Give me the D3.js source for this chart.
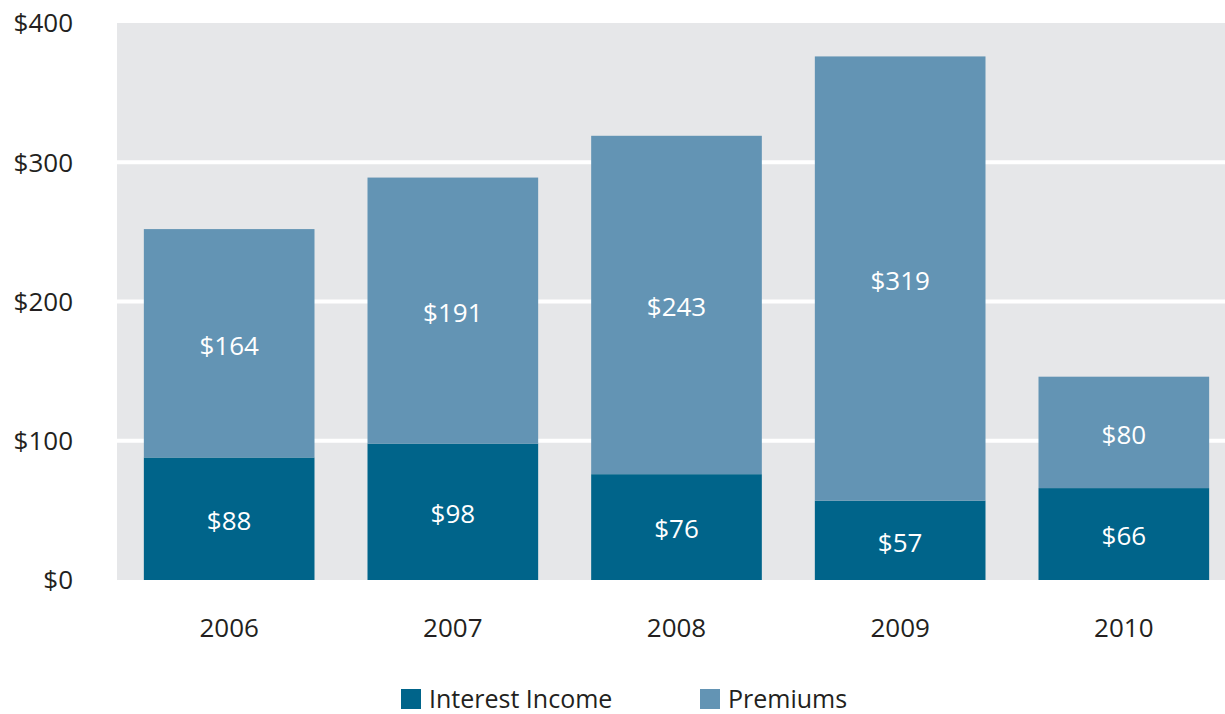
<!DOCTYPE html>
<html>
<head>
<meta charset="utf-8">
<script src="https://cdn.jsdelivr.net/npm/d3@7"></script>
<style>
  body { margin: 0; background: #fff; }
  text { font-family: "Open Sans", sans-serif; }
</style>
</head>
<body>
<div id="chart"></div>
<script>
const years = ["2006", "2007", "2008", "2009", "2010"];
const interestIncome = [88, 98, 76, 57, 66];
const premiums = [164, 191, 243, 319, 80];
const yTicks = [0, 100, 200, 300, 400];
const seriesNames = ["Interest Income", "Premiums"];
const seriesColors = ["#00648a", "#6394b4"];

const W = 1225, H = 714;
const margin = { top: 23, left: 117, bottom: 134 };
const plotBottom = H - margin.bottom;

const svg = d3.select("#chart").append("svg")
    .attr("width", W)
    .attr("height", H);

const x = d3.scaleBand()
    .domain(years)
    .range([margin.left, margin.left + 1119])
    .paddingInner(0.237)
    .paddingOuter(0.12);

const y = d3.scaleLinear()
    .domain([0, 400])
    .range([plotBottom, margin.top]);

// gray plot background
svg.append("rect")
    .attr("x", margin.left)
    .attr("y", margin.top)
    .attr("width", W - margin.left)
    .attr("height", plotBottom - margin.top)
    .attr("fill", "#e6e7e9");

// white gridlines
svg.selectAll(".grid")
    .data(yTicks.filter(d => d > 0 && d < 400))
    .enter().append("line")
    .attr("x1", margin.left)
    .attr("x2", W)
    .attr("y1", d => y(d))
    .attr("y2", d => y(d))
    .attr("stroke", "#fff")
    .attr("stroke-width", 4);

// stacked data
const rows = years.map((yr, i) => ({ year: yr, "Interest Income": interestIncome[i], "Premiums": premiums[i] }));
const stacked = d3.stack().keys(seriesNames)(rows);

const layers = svg.selectAll(".layer")
    .data(stacked)
    .enter().append("g")
    .attr("fill", (d, i) => seriesColors[i]);

layers.selectAll("rect")
    .data(d => d)
    .enter().append("rect")
    .attr("x", d => x(d.data.year))
    .attr("width", x.bandwidth())
    .attr("y", d => y(d[1]))
    .attr("height", d => y(d[0]) - y(d[1]));

layers.selectAll("text")
    .data(d => d)
    .enter().append("text")
    .attr("x", d => x(d.data.year) + x.bandwidth() / 2)
    .attr("y", d => (y(d[0]) + y(d[1])) / 2 + 2)
    .attr("dy", "0.36em")
    .attr("text-anchor", "middle")
    .attr("fill", "#fff")
    .style("font-size", "26px")
    .text(d => "$" + (d[1] - d[0]));

// y axis labels
svg.selectAll(".ylab")
    .data(yTicks)
    .enter().append("text")
    .attr("x", 73)
    .attr("y", d => y(d))
    .attr("dy", "0.36em")
    .attr("text-anchor", "end")
    .attr("fill", "#231f20")
    .style("font-size", "26px")
    .text(d => "$" + d);

// x axis labels
svg.selectAll(".xlab")
    .data(years)
    .enter().append("text")
    .attr("x", d => x(d) + x.bandwidth() / 2)
    .attr("y", 628)
    .attr("dy", "0.36em")
    .attr("text-anchor", "middle")
    .attr("fill", "#231f20")
    .style("font-size", "26px")
    .text(d => d);

// legend
const legendX = [401, 700];
const legend = svg.selectAll(".legend")
    .data(seriesNames)
    .enter().append("g")
    .attr("transform", (d, i) => "translate(" + legendX[i] + ",689)");

legend.append("rect")
    .attr("width", 20)
    .attr("height", 20)
    .attr("fill", (d, i) => seriesColors[i]);

legend.append("text")
    .attr("x", 28)
    .attr("y", 10)
    .attr("dy", "0.34em")
    .attr("fill", "#231f20")
    .style("font-size", "25px")
    .text(d => d);
</script>
</body>
</html>
